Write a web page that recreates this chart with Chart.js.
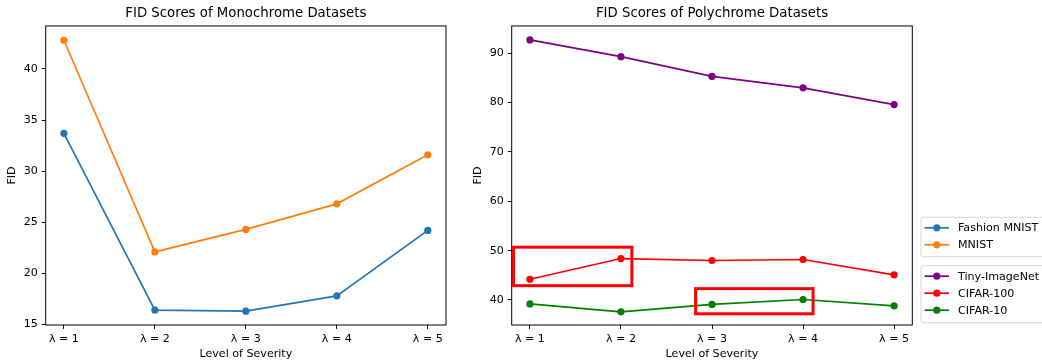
<!DOCTYPE html>
<html>
<head>
<meta charset="utf-8">
<script src="https://cdn.jsdelivr.net/npm/chart.js@4.4.0/dist/chart.umd.min.js"></script>
<style>
  html, body { margin: 0; padding: 0; background: #fff; }
  #wrap { position: relative; width: 1042px; height: 362px; overflow: hidden; }
  #monoChart { position: absolute; left: 0; top: 0; }
  #polyChart { position: absolute; left: 460px; top: 0; }
</style>
</head>
<body>
<div id="wrap">
  <canvas id="monoChart" width="460" height="362"></canvas>
  <canvas id="polyChart" width="582" height="362"></canvas>
</div>
<script>
// Veriler
const levels = [1, 2, 3, 4, 5];
const levelLabels = ['λ = 1', 'λ = 2', 'λ = 3', 'λ = 4', 'λ = 5'];

const fashionMnist = [33.7, 16.4, 16.3, 17.8, 24.2];
const mnist = [42.8, 22.1, 24.3, 26.8, 31.6];

const tinyImageNet = [92.7, 89.3, 85.3, 83.0, 79.6];
const cifar100 = [44.2, 48.4, 48.0, 48.2, 45.1];
const cifar10 = [39.2, 37.6, 39.1, 40.1, 38.8];

const monoTicks = [15, 20, 25, 30, 35, 40];
const polyTicks = [40, 50, 60, 70, 80, 90];

// Kırmızı vurgu kutuları (veri koordinatlarında)
const highlightBoxes = [
  { x0: 0.82, x1: 2.12, y0: 42.9, y1: 50.7 },
  { x0: 2.82, x1: 4.11, y0: 37.2, y1: 42.3 }
];

const monoSeries = [
  { label: 'Fashion MNIST', data: fashionMnist, color: '#1f77b4' },
  { label: 'MNIST', data: mnist, color: '#ff7f0e' }
];
const polySeries = [
  { label: 'Tiny-ImageNet', data: tinyImageNet, color: '#800080' },
  { label: 'CIFAR-100', data: cifar100, color: '#ff0000' },
  { label: 'CIFAR-10', data: cifar10, color: '#008000' }
];

const FS = 11.1;   // küçük yazılar
const TFS = 13.3;  // başlık

Chart.defaults.font.family = "'DejaVu Sans', sans-serif";
Chart.defaults.color = '#000';

const toDataset = (s) => ({
  label: s.label,
  data: levels.map((x, i) => ({ x, y: s.data[i] })),
  borderColor: s.color,
  backgroundColor: s.color,
  borderWidth: 1.7,
  pointRadius: 3.6,
  pointHoverRadius: 3.6,
  pointBorderWidth: 0,
  tension: 0
});

// Eksen çerçevesi
const framePlugin = {
  id: 'frame',
  afterDatasetsDraw(chart) {
    const { ctx, chartArea: a } = chart;
    ctx.save();
    ctx.strokeStyle = '#000';
    ctx.lineWidth = 1;
    ctx.strokeRect(a.left, a.top, a.right - a.left, a.bottom - a.top);
    ctx.restore();
  }
};

const boxesPlugin = {
  id: 'boxes',
  afterDatasetsDraw(chart) {
    const { ctx, scales: { x, y } } = chart;
    ctx.save();
    ctx.strokeStyle = '#ff0000';
    ctx.lineWidth = 3;
    highlightBoxes.forEach(b => {
      const l = x.getPixelForValue(b.x0), r = x.getPixelForValue(b.x1);
      const t = y.getPixelForValue(b.y1), btm = y.getPixelForValue(b.y0);
      ctx.strokeRect(l, t, r - l, btm - t);
    });
    ctx.restore();
  }
};

function drawLegendBox(ctx, x, y, w, h, items) {
  ctx.save();
  const r = 2.5;
  ctx.beginPath();
  ctx.moveTo(x + r, y);
  ctx.lineTo(x + w - r, y);
  ctx.arcTo(x + w, y, x + w, y + r, r);
  ctx.lineTo(x + w, y + h - r);
  ctx.arcTo(x + w, y + h, x + w - r, y + h, r);
  ctx.lineTo(x + r, y + h);
  ctx.arcTo(x, y + h, x, y + h - r, r);
  ctx.lineTo(x, y + r);
  ctx.arcTo(x, y, x + r, y, r);
  ctx.closePath();
  ctx.fillStyle = 'rgba(255,255,255,0.8)';
  ctx.fill();
  ctx.strokeStyle = '#d6d6d6';
  ctx.lineWidth = 1;
  ctx.stroke();
  ctx.font = FS + "px 'DejaVu Sans'";
  ctx.textBaseline = 'middle';
  ctx.textAlign = 'left';
  items.forEach((it, i) => {
    const cy = y + 10.5 + i * 17;
    ctx.strokeStyle = it.color;
    ctx.lineWidth = 1.7;
    ctx.beginPath();
    ctx.moveTo(x + 3.5, cy);
    ctx.lineTo(x + 28, cy);
    ctx.stroke();
    ctx.fillStyle = it.color;
    ctx.beginPath();
    ctx.arc(x + 15.8, cy, 3.6, 0, Math.PI * 2);
    ctx.fill();
    ctx.fillStyle = '#000';
    ctx.fillText(it.label, x + 37, cy + 0.5);
  });
  ctx.restore();
}

const legendPlugin = {
  id: 'outerLegend',
  afterDraw(chart) {
    const ctx = chart.ctx;
    drawLegendBox(ctx, 461, 217.3, 200, 39.4, monoSeries);
    drawLegendBox(ctx, 461, 265.7, 200, 57, polySeries);
  }
};

function makeChart(canvasId, title, series, yMin, yMax, yTicks, yWidth, padRight, yTitlePad, plugins) {
  return new Chart(document.getElementById(canvasId), {
    type: 'line',
    data: { datasets: series.map(toDataset) },
    options: {
      responsive: false,
      animation: false,
      devicePixelRatio: 1,
      layout: { padding: { left: 0, right: padRight, top: 0, bottom: 0 } },
      plugins: {
        legend: { display: false },
        tooltip: { enabled: false },
        title: {
          display: true,
          text: title,
          fullSize: false,
          font: { size: TFS, weight: 'normal' },
          color: '#000',
          padding: { top: 6, bottom: 4 }
        }
      },
      scales: {
        x: {
          type: 'linear',
          min: 0.8,
          max: 5.2,
          afterBuildTicks: s => { s.ticks = levels.map(v => ({ value: v })); },
          afterFit: s => { s.height = 37; },
          grid: { display: true, drawOnChartArea: false, drawTicks: true, tickLength: 3.9, color: '#000' },
          border: { display: false },
          ticks: {
            autoSkip: false, maxRotation: 0, padding: 3.5,
            font: { size: FS }, color: '#000',
            callback: v => levelLabels[levels.indexOf(v)]
          },
          title: { display: true, text: 'Level of Severity', font: { size: FS }, color: '#000', padding: { top: 0, bottom: 1 } }
        },
        y: {
          min: yMin,
          max: yMax,
          afterBuildTicks: s => { s.ticks = yTicks.map(v => ({ value: v })); },
          afterFit: s => { s.width = yWidth; },
          grid: { display: true, drawOnChartArea: false, drawTicks: true, tickLength: 3.9, color: '#000' },
          border: { display: false },
          ticks: { padding: 3.9, font: { size: FS }, color: '#000' },
          title: { display: true, text: 'FID', font: { size: FS }, color: '#000', padding: { top: yTitlePad, bottom: 0 } }
        }
      }
    },
    plugins
  });
}

makeChart('monoChart', 'FID Scores of Monochrome Datasets', monoSeries,
  14.95, 44.2, monoTicks, 45.7, 14, 5.6, [framePlugin]);
makeChart('polyChart', 'FID Scores of Polychrome Datasets', polySeries,
  34.93, 95.53, polyTicks, 51.7, 129.7, 11.3, [framePlugin, boxesPlugin, legendPlugin]);
</script>
</body>
</html>
